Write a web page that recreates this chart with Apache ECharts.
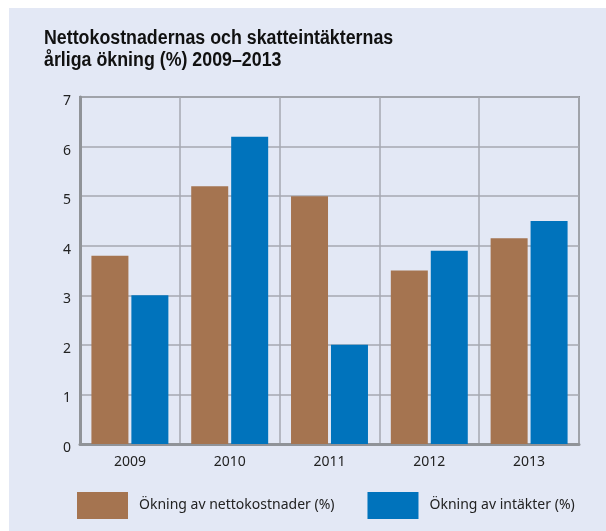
<!DOCTYPE html>
<html>
<head>
<meta charset="utf-8">
<script src="https://cdn.jsdelivr.net/npm/echarts@6/dist/echarts.min.js"></script>
<style>
html,body{margin:0;padding:0;background:#ffffff;}
#chart{width:606px;height:531px;}
</style>
</head>
<body>
<div id="chart"></div>
<script>
const titleText = "Nettokostnadernas och skatteintäkternas\nårliga ökning (%) 2009–2013";
const categories = ["2009", "2010", "2011", "2012", "2013"];
const seriesNames = ["Ökning av nettokostnader (%)", "Ökning av intäkter (%)"];
const nettokostnader = [3.8, 5.2, 5.0, 3.5, 4.15];
const intakter = [3.0, 6.2, 2.0, 3.9, 4.5];
const yTicks = [0, 1, 2, 3, 4, 5, 6, 7];

const chart = echarts.init(document.getElementById('chart'), null, {renderer: 'canvas'});
const labelFont = '"Noto Sans", "Open Sans", sans-serif';
chart.setOption({
  animation: false,
  backgroundColor: '#ffffff',
  graphic: [{
    type: 'rect', z: -100, silent: true,
    shape: {x: 9, y: 8, width: 606, height: 531},
    style: {fill: '#e3e8f5'}
  }, {
    type: 'text', z: 10, silent: true,
    x: 44, y: 27, scaleX: 0.89, scaleY: 1,
    style: {
      text: titleText,
      font: 'bold 20px "Liberation Sans", Arial, sans-serif',
      lineHeight: 22, fill: '#111111',
      verticalAlign: 'top', align: 'left'
    }
  }],
  legend: {
    left: 72, top: 487,
    icon: 'rect', itemWidth: 51, itemHeight: 27, itemGap: 33,
    textStyle: {fontFamily: labelFont, fontSize: 14, color: '#222222', padding: [0, 0, 0, 6]},
    data: seriesNames
  },
  grid: {
    left: 80, right: 27, top: 97, bottom: 87,
    show: true, borderColor: '#909398', borderWidth: 2, backgroundColor: 'transparent'
  },
  xAxis: {
    type: 'category', data: categories,
    axisLine: {show: true, lineStyle: {color: '#909398', width: 3}},
    axisTick: {show: false},
    axisLabel: {fontFamily: labelFont, fontSize: 14, color: '#222222', margin: 11},
    splitLine: {show: true, lineStyle: {color: '#a6a9b0', width: 1.5}}
  },
  yAxis: {
    type: 'value', min: yTicks[0], max: yTicks[yTicks.length - 1], interval: 1,
    axisLine: {show: true, lineStyle: {color: '#909398', width: 3}},
    axisTick: {show: false},
    axisLabel: {fontFamily: labelFont, fontSize: 14, color: '#222222', margin: 9,
      verticalAlign: 'top', lineHeight: 8},
    splitLine: {show: true, lineStyle: {color: '#a6a9b0', width: 1.5}}
  },
  series: [
    {name: seriesNames[0], type: 'bar', data: nettokostnader, barWidth: 37, barGap: '8%',
     itemStyle: {color: '#a57450'}},
    {name: seriesNames[1], type: 'bar', data: intakter, barWidth: 37, barGap: '8%',
     itemStyle: {color: '#0073bc'}}
  ]
});
</script>
</body>
</html>
